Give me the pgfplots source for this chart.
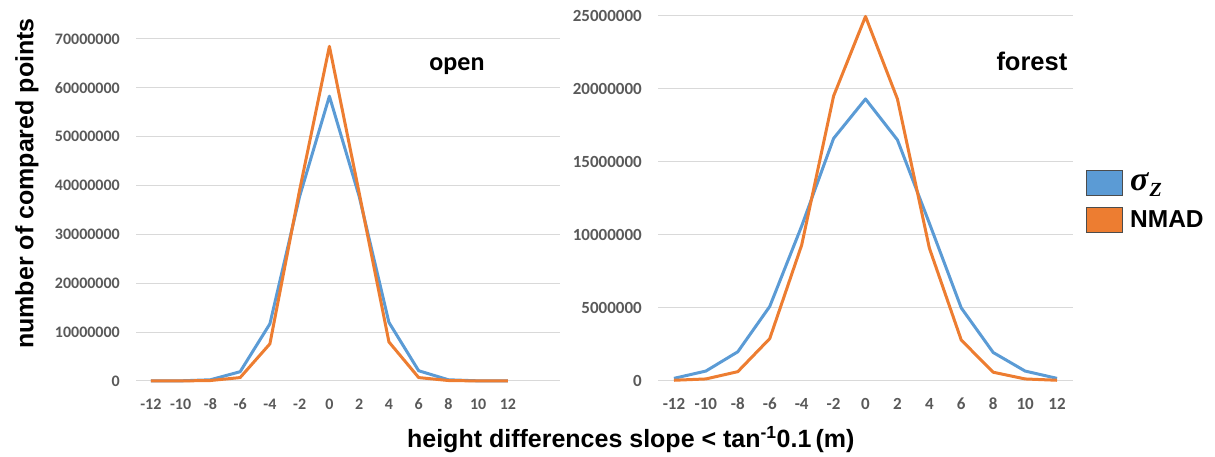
\documentclass[border=0pt]{standalone}
\usepackage{pgfplots}
\pgfplotsset{compat=1.18}
\usepackage{fontspec}
\setmainfont{Liberation Sans}
\newfontfamily\carl{Carlito}
\newfontfamily\lserif{Liberation Serif}
\definecolor{cblue}{HTML}{5B9BD5}
\definecolor{corange}{HTML}{ED7D31}
\definecolor{gridc}{HTML}{D9D9D9}
\definecolor{tickc}{HTML}{595959}
\begin{document}
\begin{tikzpicture}
\useasboundingbox (0pt,0pt) rectangle (1215pt,457pt);
\pgfplotsset{
  myax/.style={
    scale only axis, anchor=south west,
    axis line style={draw=none},
    major tick length=0pt,
    ymajorgrids, grid style={gridc, line width=1pt},
    xtick={-12,-10,...,12},
    scaled y ticks=false,
    /pgf/number format/.cd, fixed, precision=0, 1000 sep={}, assume math mode=true,
    /pgfplots/.cd,
    tick label style={font=\carl\bfseries\fontsize{#1}{#1}\selectfont, text=tickc, inner sep=0pt},
    yticklabel style={anchor=east, xshift=-16pt},
    xticklabel style={anchor=center, yshift=-23pt},
    clip=false,
  },
}
% left: open
\begin{axis}[myax=16, at={(136pt,76pt)}, width=424pt, height=342pt,
  xmin=-13, xmax=15.5, ymin=0, ymax=70000000,
  ytick={0,10000000,...,70000000},
  ylabel={number of compared points},
  ylabel style={at={(axis description cs:-0.257,0.5775)}, rotate=0, anchor=center, font=\bfseries\fontsize{25}{25}\selectfont, inner sep=0pt},
  xlabel={height differences slope < tan\textsuperscript{-1}0.1\,(m)},
  xlabel style={at={(axis description cs:1.167,-0.1725)}, anchor=center, font=\bfseries\fontsize{25}{25}\selectfont, inner sep=0pt},
]
\addplot[cblue, line width=3pt, line join=round] coordinates {(-12,0) (-10,30000) (-8,250000) (-6,1900000) (-4,11700000) (-2,37800000) (0,58300000) (2,37800000) (4,12000000) (6,2100000) (8,250000) (10,30000) (12,0)};
\addplot[corange, line width=3pt, line join=round] coordinates {(-12,0) (-10,10000) (-8,100000) (-6,700000) (-4,7600000) (-2,39100000) (0,68500000) (2,38500000) (4,8000000) (6,700000) (8,100000) (10,10000) (12,0)};
\node[anchor=base, font=\carl\bfseries\fontsize{26}{26}\selectfont, inner sep=0pt] at (axis description cs:0.757,0.909) {open};
\end{axis}
% right: forest
\begin{axis}[myax=17, at={(658pt,76pt)}, width=415pt, height=365.3pt,
  xmin=-13, xmax=13, ymin=0, ymax=25000000,
  ytick={0,5000000,...,25000000},
  legend style={at={(axis description cs:1.0313,0.5795)}, anchor=north west, draw=none, fill=none, inner sep=0pt, row sep=11pt, column sep=7pt,
    font=\bfseries\fontsize{24.5}{24.5}\selectfont, nodes={inner sep=0pt, anchor=west}},
  legend cell align=left,
  legend image code/.code={\draw[#1] (0pt,-12.5pt) rectangle (36pt,12.5pt);},
  legend columns=1,
]
\addplot[cblue, line width=3pt, line join=round, forget plot] coordinates {(-12,180000) (-10,680000) (-8,2000000) (-6,5100000) (-4,10600000) (-2,16600000) (0,19300000) (2,16500000) (4,10800000) (6,5000000) (8,1950000) (10,680000) (12,180000)};
\addplot[corange, line width=3pt, line join=round, forget plot] coordinates {(-12,50000) (-10,140000) (-8,640000) (-6,2900000) (-4,9300000) (-2,19500000) (0,24950000) (2,19300000) (4,9100000) (6,2800000) (8,600000) (10,140000) (12,50000)};
\addlegendimage{fill=cblue, draw=black!70, line width=1pt}
\addlegendentry{{\lserif\bfseries\itshape\fontsize{34}{34}\selectfont σ\kern1pt\raisebox{-6pt}{\fontsize{20}{20}\selectfont Z}}}
\addlegendimage{fill=corange, draw=black!70, line width=1pt}
\addlegendentry{NMAD}
\node[anchor=base, font=\bfseries\fontsize{25.5}{25.5}\selectfont, inner sep=0pt] at (axis description cs:0.901,0.8486) {forest};
\end{axis}
\end{tikzpicture}
\end{document}
